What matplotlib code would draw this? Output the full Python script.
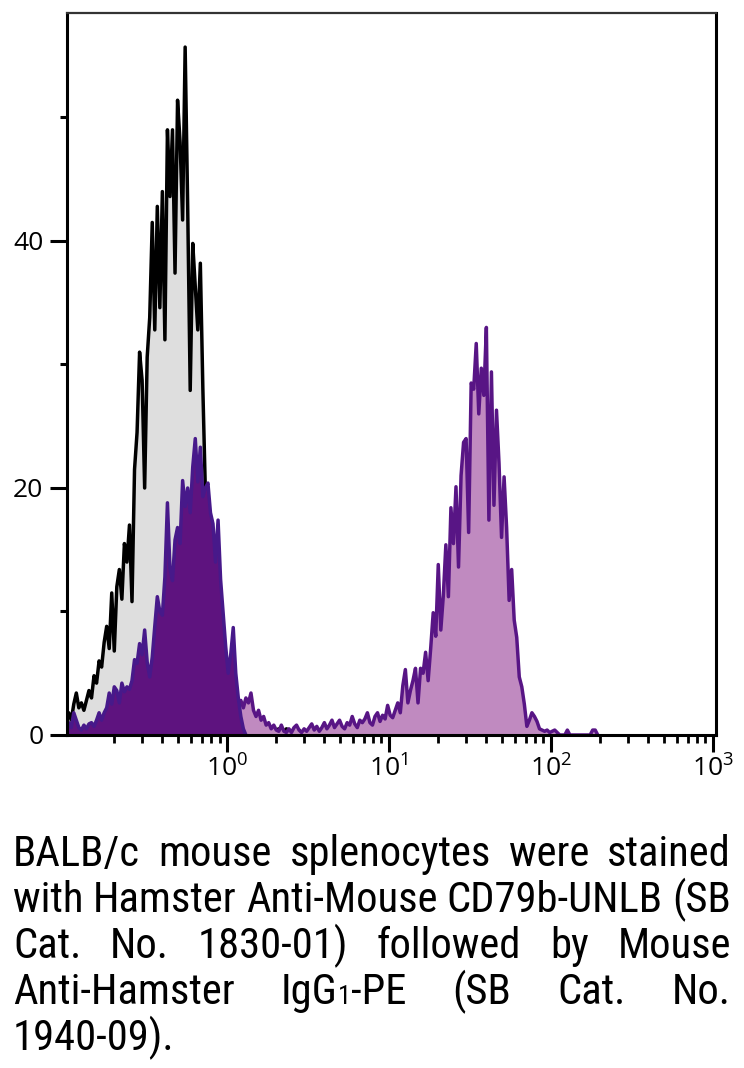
import os
import numpy as np
import matplotlib
matplotlib.use("Agg")
import matplotlib.pyplot as plt
from matplotlib import font_manager
from matplotlib.font_manager import FontProperties
from matplotlib.ticker import FixedLocator, NullFormatter, LogFormatterSciNotation

# ---------------- data (256 log channels spanning 10^-1 .. 10^3) ----------------
n_channels = 256
decade_lo, decade_hi = -1, 3

# unstained control (grey)
control_start = 0
control_counts = [
    1.0, 1.8, 1.2, 2.5, 3.4, 2.2, 2.6, 2.0, 2.8, 3.6,
    3.0, 4.8, 4.2, 6.0, 5.5, 7.5, 8.8, 7.0, 11.5, 6.8,
    12.0, 13.4, 11.0, 15.5, 14.0, 17.0, 10.8, 21.5, 24.5, 31.0,
    28.7, 20.0, 30.6, 33.8, 41.5, 32.8, 42.8, 34.6, 44.0, 32.0,
    49.0, 43.6, 49.0, 37.4, 51.4, 48.0, 41.7, 55.7, 42.8, 27.9,
    39.8, 36.3, 32.8, 38.2, 28.0, 19.6, 18.0, 14.0, 10.0, 7.0,
    4.0, 2.5, 1.5, 1.0, 0.6, 0.5, 0.4, 0.5, 0.3, 0.4,
    0.3, 0.2, 0.3, 0.2, 0.3, 0.2, 0.2, 0.3, 0.2, 0.2,
    0.3, 0.2, 0.3, 0.4, 0.5, 0.4, 0.3, 0.5, 0.4, 0.2,
    0.5, 0.3, 0.4, 0.2, 0.3, 0.2, 0.0,
]

# stained sample, negative population (dark purple)
negative_start = 0
negative_counts = [
    0.5, 1.0, 0.6, 1.8, 1.2, 0.6, 0.4, 0.8, 0.5, 0.9,
    1.0, 0.7, 1.2, 1.8, 1.2, 1.8, 2.2, 3.4, 2.5, 3.9,
    3.6, 2.6, 4.2, 3.5, 3.9, 3.7, 4.4, 6.1, 5.8, 7.4,
    6.5, 8.5, 5.9, 4.7, 6.3, 8.8, 11.2, 10.0, 9.7, 12.8,
    18.8, 13.5, 12.5, 15.8, 16.8, 15.5, 20.6, 18.5, 20.0, 18.0,
    21.7, 24.0, 20.5, 23.3, 19.3, 20.0, 20.4, 18.0, 17.1, 14.0,
    17.4, 12.6, 9.9, 7.2, 5.0, 6.5, 8.7, 5.0, 3.0, 1.5,
    0.5, 0.0,
]

# stained sample, CD79b+ population and tail (light purple)
positive_start = 62
positive_counts = [
    3.0, 3.0, 3.0, 3.2, 3.5, 3.2, 2.4, 2.8, 2.2, 3.0,
    2.6, 3.4, 2.0, 1.5, 2.0, 1.2, 1.5, 0.8, 1.0, 0.5,
    0.8, 0.4, 0.3, 0.8, 0.3, 0.2, 0.5, 0.2, 0.6, 0.8,
    0.4, 0.2, 0.5, 0.3, 0.6, 0.9, 0.4, 0.7, 0.3,
    0.6, 1.0, 0.5, 0.8, 1.2, 0.6, 0.9, 1.2, 0.7, 0.5,
    1.0, 0.8, 1.5, 0.9, 0.6, 1.2, 1.0, 1.3, 1.8, 1.0,
    0.8, 1.5, 1.8, 1.1, 1.6, 1.3, 2.4, 1.6, 1.4, 2.0,
    2.6, 1.8, 4.0, 5.3, 2.6, 3.6, 4.4, 5.4, 2.6, 5.4,
    5.0, 6.7, 4.4, 7.0, 9.9, 8.0, 13.8, 8.5, 11.3, 15.4,
    11.2, 18.4, 15.5, 20.1, 13.6, 21.0, 23.7, 24.0, 16.4, 28.5,
    28.0, 31.7, 26.0, 29.7, 27.5, 33.0, 17.4, 29.4, 18.6, 26.3,
    22.0, 16.0, 20.9, 16.8, 10.9, 13.4, 9.3, 7.9, 4.7, 3.9,
    2.5, 0.7, 1.2, 1.8, 1.5, 1.1, 0.5, 0.4, 0.3, 0.4,
    0.2, 0.3, 0.4, 0.2, 0.0, 0.0, 0.0, 0.4, 0.0, 0.0,
    0.0, 0.0, 0.0, 0.0, 0.0, 0.0, 0.0, 0.4, 0.4, 0.0,
]

y_major = [0, 20, 40]
y_minor = [10, 30, 50]
x_major = [1, 10, 100, 1000]

caption_lines = [
    ["BALB/c", "mouse", "splenocytes", "were", "stained"],
    ["with", "Hamster", "Anti-Mouse", "CD79b-UNLB", "(SB"],
    ["Cat.", "No.", "1830-01)", "followed", "by", "Mouse"],
    ["Anti-Hamster", [("IgG", 1.0), ("1", 0.62), ("-PE", 1.0)], "(SB", "Cat.", "No."],
    ["1940-09)."],
]

# ---------------- fonts ----------------
def pick(names):
    for n in names:
        try:
            font_manager.findfont(FontProperties(family=n), fallback_to_default=False)
            return n
        except Exception:
            continue
    return "DejaVu Sans"


def find_condensed():
    cands = []
    bad = ("bold", "light", "thin", "medium", "black", "italic", "oblique", "heavy", "extra", "ultra", "semibold")
    for f in font_manager.fontManager.ttflist:
        fn = os.path.basename(f.fname).lower()
        nm = f.name.lower()
        if f.style != "normal":
            continue
        w = f.weight
        if isinstance(w, str):
            if w not in ("normal", "regular", "book"):
                continue
        elif w != 400:
            continue
        if any(b in fn for b in bad):
            continue
        if "mono" in nm or "cjk" in nm or ("serif" in nm and "sans" not in nm):
            continue
        st = str(f.stretch).lower()
        cond = ("narrow" in fn or "narrow" in nm or "condensed" in fn or "condensed" in nm
                or st in ("condensed", "semi-condensed"))
        if not cond:
            continue
        semi = "semi" in fn or "semi" in nm or st == "semi-condensed"
        if "liberation" in nm:
            rank = 0
        elif "roboto" in nm:
            rank = 1
        elif "noto sans" in nm:
            rank = 2
        elif "open sans" in nm:
            rank = 3
        elif "dejavu" in nm:
            rank = 4
        else:
            rank = 5
        if semi:
            rank += 10
        cands.append((rank, f.fname))
    if cands:
        cands.sort()
        return FontProperties(fname=cands[0][1])
    return FontProperties(family=pick(["Lato", "Liberation Sans", "Open Sans"]))


tick_font = pick(["Open Sans", "Noto Sans", "Liberation Sans"])
cap_fp = find_condensed()
plt.rcParams["font.family"] = [tick_font, "DejaVu Sans"]
plt.rcParams["mathtext.fontset"] = "custom"
plt.rcParams["mathtext.rm"] = tick_font
plt.rcParams["mathtext.it"] = tick_font

W, H = 744, 1068
fig = plt.figure(figsize=(W / 100, H / 100), dpi=100)
ax = fig.add_axes([67 / W, 1 - 735 / H, (716 - 67) / W, (735 - 13) / H])


def centers(start, n):
    idx = np.arange(start, start + n)
    return 10.0 ** (decade_lo + (idx + 0.5) * (decade_hi - decade_lo) / n_channels)


cx = centers(control_start, len(control_counts))
nx = centers(negative_start, len(negative_counts))
px = centers(positive_start, len(positive_counts))

lw = 2.5
ax.fill_between(cx, 0, control_counts, color="#dedede", lw=0, zorder=1)
ax.plot(cx, control_counts, color="black", lw=lw, zorder=2)
ax.fill_between(px, 0, positive_counts, color="#c08ac0", lw=0, zorder=3)
ax.plot(px, positive_counts, color="#581585", lw=lw, zorder=4)
ax.fill_between(nx, 0, negative_counts, color="#5e137f", lw=0, zorder=5)
ax.plot(nx, negative_counts, color="#47198a", lw=lw, zorder=6)

ax.set_xscale("log")
ax.set_xlim(0.103, 1045)
ax.set_ylim(0, 58.46)

ax.xaxis.set_major_locator(FixedLocator(x_major))
ax.xaxis.set_major_formatter(LogFormatterSciNotation())
minors = [m * 10.0 ** d for d in range(-1, 3) for m in range(2, 10)]
ax.xaxis.set_minor_locator(FixedLocator(minors))
ax.xaxis.set_minor_formatter(NullFormatter())
ax.yaxis.set_major_locator(FixedLocator(y_major))
ax.yaxis.set_minor_locator(FixedLocator(y_minor))
ax.set_yticklabels([str(v) for v in y_major])

ax.tick_params(axis="y", which="major", direction="out", length=12, width=2.2, pad=5, labelsize=19)
ax.tick_params(axis="y", which="minor", direction="out", length=5, width=2.2)
ax.tick_params(axis="x", which="major", direction="out", length=12.5, width=2.2, pad=2, labelsize=19)
ax.tick_params(axis="x", which="minor", direction="out", length=6, width=2.0)

for side in ["left", "bottom", "right"]:
    ax.spines[side].set_linewidth(2.2)
    ax.spines[side].set_color("black")
    ax.spines[side].set_zorder(10)
ax.spines["top"].set_linewidth(1.6)
ax.spines["top"].set_color("#333333")
ax.spines["top"].set_zorder(10)

# ---------------- justified caption ----------------
fig.canvas.draw()
rend = fig.canvas.get_renderer()


def fp_at(size):
    p = cap_fp.copy()
    p.set_size(size)
    return p


def tw(s, size):
    t = fig.text(0, 0, s, fontproperties=fp_at(size))
    w = t.get_window_extent(rend).width
    t.remove()
    return w


def word_w(word, size):
    if isinstance(word, str):
        return tw(word, size)
    return sum(tw(s, size * sc) for s, sc in word)


left_px, right_px = 13, 731
avail = right_px - left_px
ref = 10.0
space10 = tw("a a", ref) - tw("aa", ref)
nat10 = sum(word_w(w, ref) for w in caption_lines[1]) + space10 * (len(caption_lines[1]) - 1)
size = ref * avail / nat10
size = min(size, 34.0)
space = space10 * size / ref

base0 = 866
lead = 46
for k, line in enumerate(caption_lines):
    widths = [word_w(w, size) for w in line]
    if k == len(caption_lines) - 1 or len(line) == 1:
        gap = space
    else:
        gap = (avail - sum(widths)) / (len(line) - 1)
    x = left_px
    yb = 1 - (base0 + k * lead) / H
    for w, wd in zip(line, widths):
        if isinstance(w, str):
            fig.text(x / W, yb, w, fontproperties=fp_at(size), va="baseline", ha="left")
        else:
            xx = x
            for s, sc in w:
                fig.text(xx / W, yb, s, fontproperties=fp_at(size * sc), va="baseline", ha="left")
                xx += tw(s, size * sc)
        x += wd + gap

fig.savefig("out.png", dpi=100)
